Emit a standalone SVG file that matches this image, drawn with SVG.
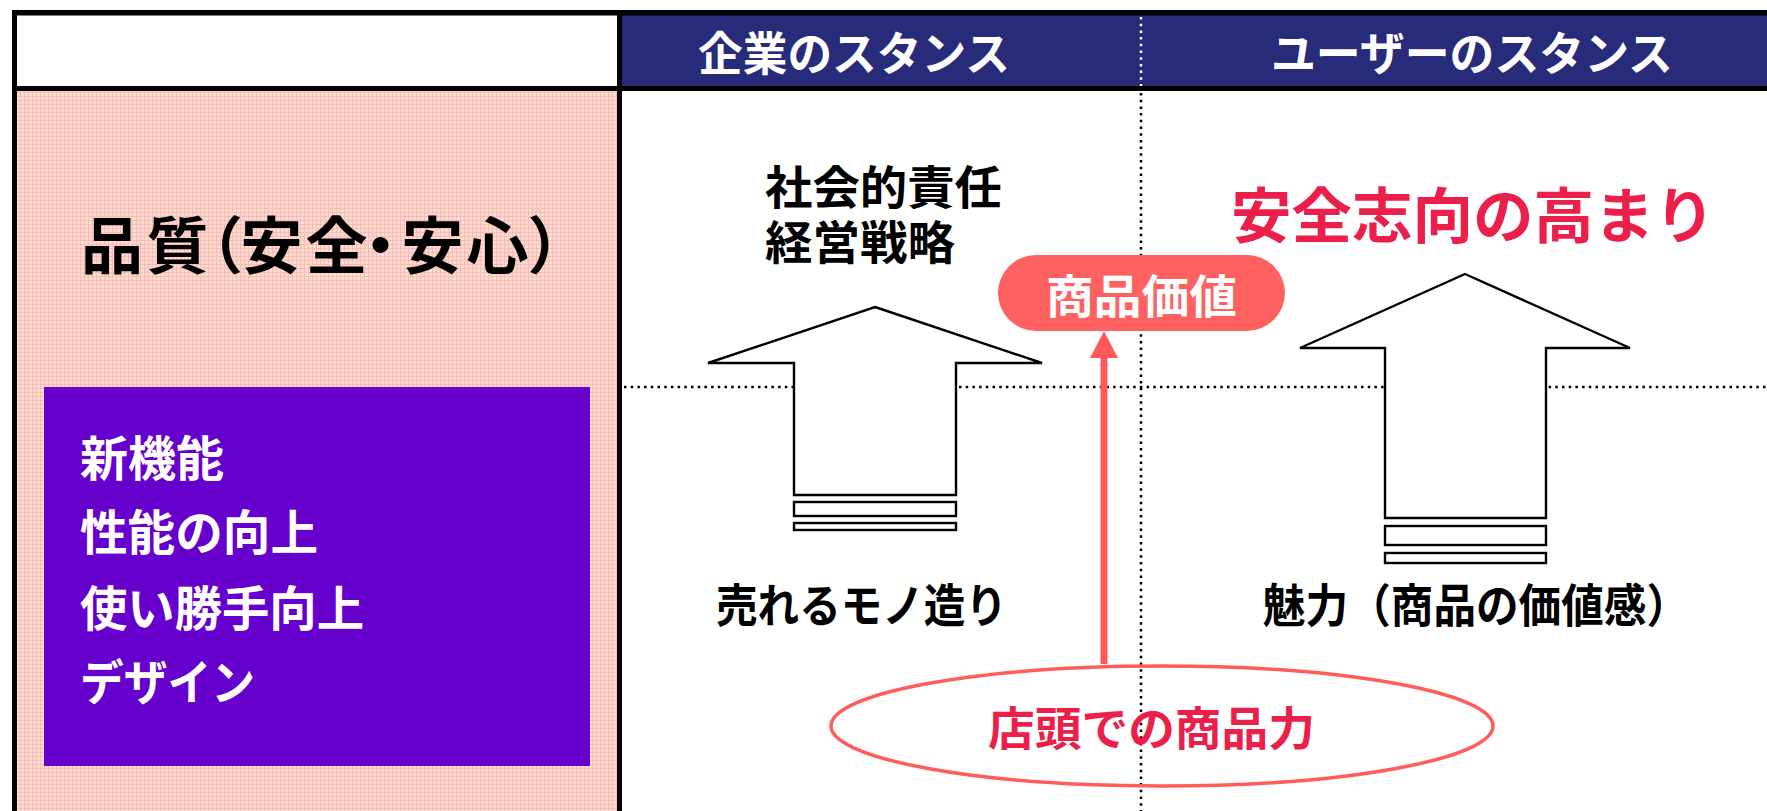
<svg xmlns="http://www.w3.org/2000/svg" width="1767" height="811" viewBox="0 0 1767 811">
<defs>
<style>
.jp{font-family:"Liberation Sans","Noto Sans CJK JP","Noto Sans CJK SC",sans-serif;font-weight:bold;}
.blk{fill:#000;font-size:46px;}
.wht{fill:#fff;}
.red{fill:#EC1F4A;}
.frame{stroke:#000;fill:none;}
.dot{fill:none;stroke-width:2.5;stroke-dasharray:2.5 4.2;}
.arrow{fill:#fff;stroke:#000;stroke-width:2.4;stroke-linejoin:miter;}
</style>
<pattern id="pink" width="4" height="4" patternUnits="userSpaceOnUse">
<rect width="4" height="4" fill="#FFDAD3"/>
<path d="M0 0.5H4M0.5 0V4" stroke="#F6BDB5" stroke-width="1"/>
</pattern>
</defs>
<rect width="1767" height="811" fill="#fff"/>
<g id="table">
<rect x="17" y="91" width="600" height="720" fill="url(#pink)"/>
<rect x="17" y="15" width="600" height="71" fill="#fff"/>
<rect x="622" y="15" width="1145" height="71" fill="#282A7A"/>
<line class="frame" x1="14.5" y1="10" x2="14.5" y2="811" stroke-width="5"/>
<line class="frame" x1="12" y1="12.75" x2="1767" y2="12.75" stroke-width="5.5"/>
<line class="frame" x1="12" y1="88.5" x2="1767" y2="88.5" stroke-width="5"/>
<line class="frame" x1="619.5" y1="10" x2="619.5" y2="811" stroke-width="5"/>
<line class="dot" x1="1141" y1="17" x2="1141" y2="86" stroke="#fff"/>
<line class="dot" x1="1141" y1="93" x2="1141" y2="811" stroke="#000"/>
<line class="dot" x1="624" y1="387" x2="1767" y2="387" stroke="#000"/>
</g>
<g id="header-company">
<text class="jp wht" x="698" y="70" font-size="46" textLength="312" lengthAdjust="spacingAndGlyphs">企業のスタンス</text>
</g>
<g id="header-user">
<text class="jp wht" x="1271" y="70" font-size="46" textLength="402" lengthAdjust="spacingAndGlyphs">ユーザーのスタンス</text>
</g>
<g id="quality-title">
<text class="jp" fill="#000" font-size="62" y="269" x="81 146.5 181 240.5 305.5 349.5 401.5 466.5 527.6">品質（安全・安心）</text>
</g>
<g id="features">
<rect x="44" y="387" width="546" height="379" fill="#6600CC"/>
<text class="jp wht" font-size="48" x="80" y="476" textLength="144" lengthAdjust="spacingAndGlyphs">新機能</text>
<text class="jp wht" font-size="48" x="80" y="550" textLength="238" lengthAdjust="spacingAndGlyphs">性能の向上</text>
<text class="jp wht" font-size="48" x="80" y="626" textLength="284" lengthAdjust="spacingAndGlyphs">使い勝手向上</text>
<text class="jp wht" font-size="48" x="80" y="700" textLength="175" lengthAdjust="spacingAndGlyphs">デザイン</text>
</g>
<g id="company-goal">
<text class="jp blk" x="765" y="204" textLength="237" lengthAdjust="spacingAndGlyphs">社会的責任</text>
<text class="jp blk" x="765" y="259" textLength="190" lengthAdjust="spacingAndGlyphs">経営戦略</text>
</g>
<g id="company-arrow">
<polygon class="arrow" points="875,307 1042,363 956,363 956,495 794,495 794,363 708,363"/>
<rect class="arrow" x="794" y="502" width="162" height="14"/>
<rect class="arrow" x="794" y="523" width="162" height="7"/>
</g>
<g id="company-base">
<text class="jp blk" x="716" y="622" textLength="291" lengthAdjust="spacingAndGlyphs">売れるモノ造り</text>
</g>
<g id="user-goal">
<text class="jp red" font-size="60" x="1231" y="238" textLength="484" lengthAdjust="spacingAndGlyphs">安全志向の高まり</text>
</g>
<g id="user-arrow">
<polygon class="arrow" points="1465,274 1630,348 1546,348 1546,518 1385,518 1385,348 1300,348"/>
<rect class="arrow" x="1385" y="526" width="161" height="19"/>
<rect class="arrow" x="1385" y="553" width="161" height="10"/>
</g>
<g id="user-base">
<text class="jp blk" x="1263" y="622" textLength="426" lengthAdjust="spacingAndGlyphs">魅力（商品の価値感）</text>
</g>
<g id="product-value">
<rect x="998" y="255" width="287" height="76" rx="38" fill="#FF6060"/>
<text class="jp wht" font-size="46" x="1046" y="313" textLength="191" lengthAdjust="spacingAndGlyphs">商品価値</text>
</g>
<g id="store-power">
<ellipse cx="1162" cy="726" rx="331" ry="60" fill="none" stroke="#FF5C5C" stroke-width="3.5"/>
<text class="jp red" font-size="46" x="988" y="745" textLength="327" lengthAdjust="spacingAndGlyphs">店頭での商品力</text>
</g>
<g id="connectors">
<line x1="1104" y1="664" x2="1104" y2="352" stroke="#FF5A5A" stroke-width="7"/>
<polygon points="1090,358 1118,358 1104,331" fill="#FF5A5A"/>
</g>
</svg>
